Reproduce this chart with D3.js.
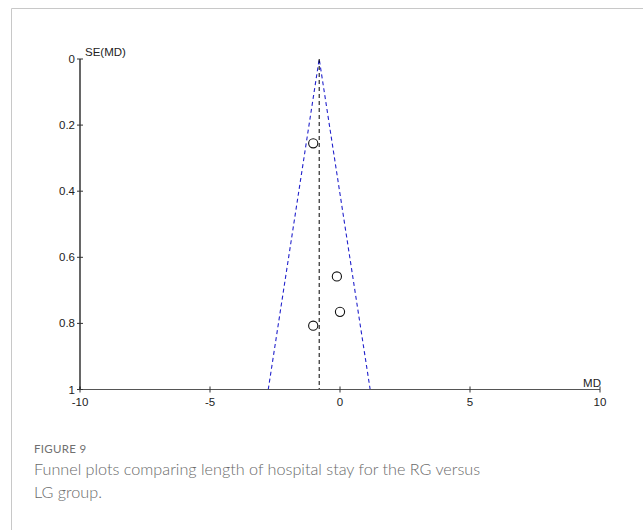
<!DOCTYPE html>
<html>
<head>
<meta charset="utf-8">
<script src="https://cdn.jsdelivr.net/npm/d3@7"></script>
<style>
  body { margin: 0; background: #fff; }
</style>
</head>
<body>
<div id="chart"></div>
<script>
// Study points
var studyMD = [-1.03, -0.12, 0.0, -1.03]
var studySE = [0.255, 0.658, 0.765, 0.807]

// Pooled estimate and funnel limits
var pooledMD = -0.8
var funnelZ = 1.96

var xTicks = [-10, -5, 0, 5, 10]
var yTicks = [0, 0.2, 0.4, 0.6, 0.8, 1]

var W = 643, H = 530

var svg = d3.select('#chart').append('svg')
    .attr('width', W)
    .attr('height', H)

// Frame lines (top and left)
svg.append('line')
    .attr('x1', 11.5).attr('y1', 8.5).attr('x2', W).attr('y2', 8.5)
    .style('stroke', '#c8c8c8')
svg.append('line')
    .attr('x1', 11.5).attr('y1', 8.5).attr('x2', 11.5).attr('y2', H)
    .style('stroke', '#c8c8c8')

var x = d3.scaleLinear().domain([-10, 10]).range([80, 600])
var y = d3.scaleLinear().domain([0, 1]).range([59, 389.5])

var font = "'Liberation Sans', Arial, sans-serif"

// Funnel (blue dashed)
var funnel = [
  [pooledMD - funnelZ * 1, 1],
  [pooledMD, 0],
  [pooledMD + funnelZ * 1, 1]
]
svg.append('path')
    .attr('d', d3.line()
      .x(function(d){ return x(d[0]) })
      .y(function(d){ return y(d[1]) })(funnel))
    .style('fill', 'none')
    .style('stroke', '#2222cc')
    .style('stroke-width', 1.1)
    .style('stroke-dasharray', '4,3')

// Pooled estimate line (black dashed)
svg.append('line')
    .attr('x1', x(pooledMD)).attr('y1', y(0))
    .attr('x2', x(pooledMD)).attr('y2', y(1))
    .style('stroke', '#000')
    .style('stroke-width', 1)
    .style('stroke-dasharray', '4,3')

// X axis
var xAxis = svg.append('g')
    .attr('transform', 'translate(0,' + y(1) + ')')
xAxis.append('line')
    .attr('x1', x(-10)).attr('x2', x(10))
    .style('stroke', '#555').style('stroke-width', 1.2)
var xt = xAxis.selectAll('g.tick')
    .data(xTicks)
  .enter().append('g')
    .attr('class', 'tick')
    .attr('transform', function(d){ return 'translate(' + x(d) + ',0)' })
xt.append('line')
    .attr('y1', -3).attr('y2', 3)
    .style('stroke', '#333')
xt.append('text')
    .attr('y', 16)
    .text(function(d){ return d })
    .style('text-anchor', 'middle')
    .style('font-family', font)
    .style('font-size', '11.5px')
    .style('fill', '#222')

// Y axis
var yAxis = svg.append('g')
    .attr('transform', 'translate(' + x(-10) + ',0)')
yAxis.append('line')
    .attr('y1', y(0)).attr('y2', y(1))
    .style('stroke', '#000').style('stroke-width', 1.2)
var yt = yAxis.selectAll('g.tick')
    .data(yTicks)
  .enter().append('g')
    .attr('class', 'tick')
    .attr('transform', function(d){ return 'translate(0,' + y(d) + ')' })
yt.append('line')
    .attr('x1', -3).attr('x2', 3)
    .style('stroke', '#333')
yt.append('text')
    .attr('x', -5)
    .attr('y', 4)
    .text(function(d){ return d })
    .style('text-anchor', 'end')
    .style('font-family', font)
    .style('font-size', '11.5px')
    .style('fill', '#222')

// Axis titles
svg.append('text')
    .attr('x', x(-10) + 5)
    .attr('y', y(0) - 3)
    .text('SE(MD)')
    .style('font-family', font)
    .style('font-size', '11.5px')
    .style('fill', '#222')
svg.append('text')
    .attr('x', x(10) + 1)
    .attr('y', y(1) - 3)
    .text('MD')
    .style('text-anchor', 'end')
    .style('font-family', font)
    .style('font-size', '11.5px')
    .style('fill', '#222')

// Study circles
svg.selectAll('circle.study')
    .data(studyMD)
  .enter().append('circle')
    .attr('class', 'study')
    .attr('cx', function(d){ return x(d) })
    .attr('cy', function(d, i){ return y(studySE[i]) })
    .attr('r', 4.6)
    .style('fill', '#fff')
    .style('stroke', '#111')
    .style('stroke-width', 1.1)

// Caption
svg.append('text')
    .attr('x', 34)
    .attr('y', 453)
    .text('FIGURE 9')
    .style('font-family', "Lato, 'Open Sans', sans-serif")
    .style('font-size', '11.5px')
    .style('letter-spacing', '0.3px')
    .style('fill', '#707070')
var caption = ['Funnel plots comparing length of hospital stay for the RG versus', 'LG group.']
svg.selectAll('text.cap')
    .data(caption)
  .enter().append('text')
    .attr('class', 'cap')
    .attr('x', 34)
    .attr('y', function(d, i){ return 475 + i * 23 })
    .text(function(d){ return d })
    .style('font-family', "Lato, 'Open Sans', sans-serif")
    .style('font-size', '16.2px')
    .style('font-weight', 300)
    .style('fill', '#6a6a6a')
</script>
</body>
</html>
